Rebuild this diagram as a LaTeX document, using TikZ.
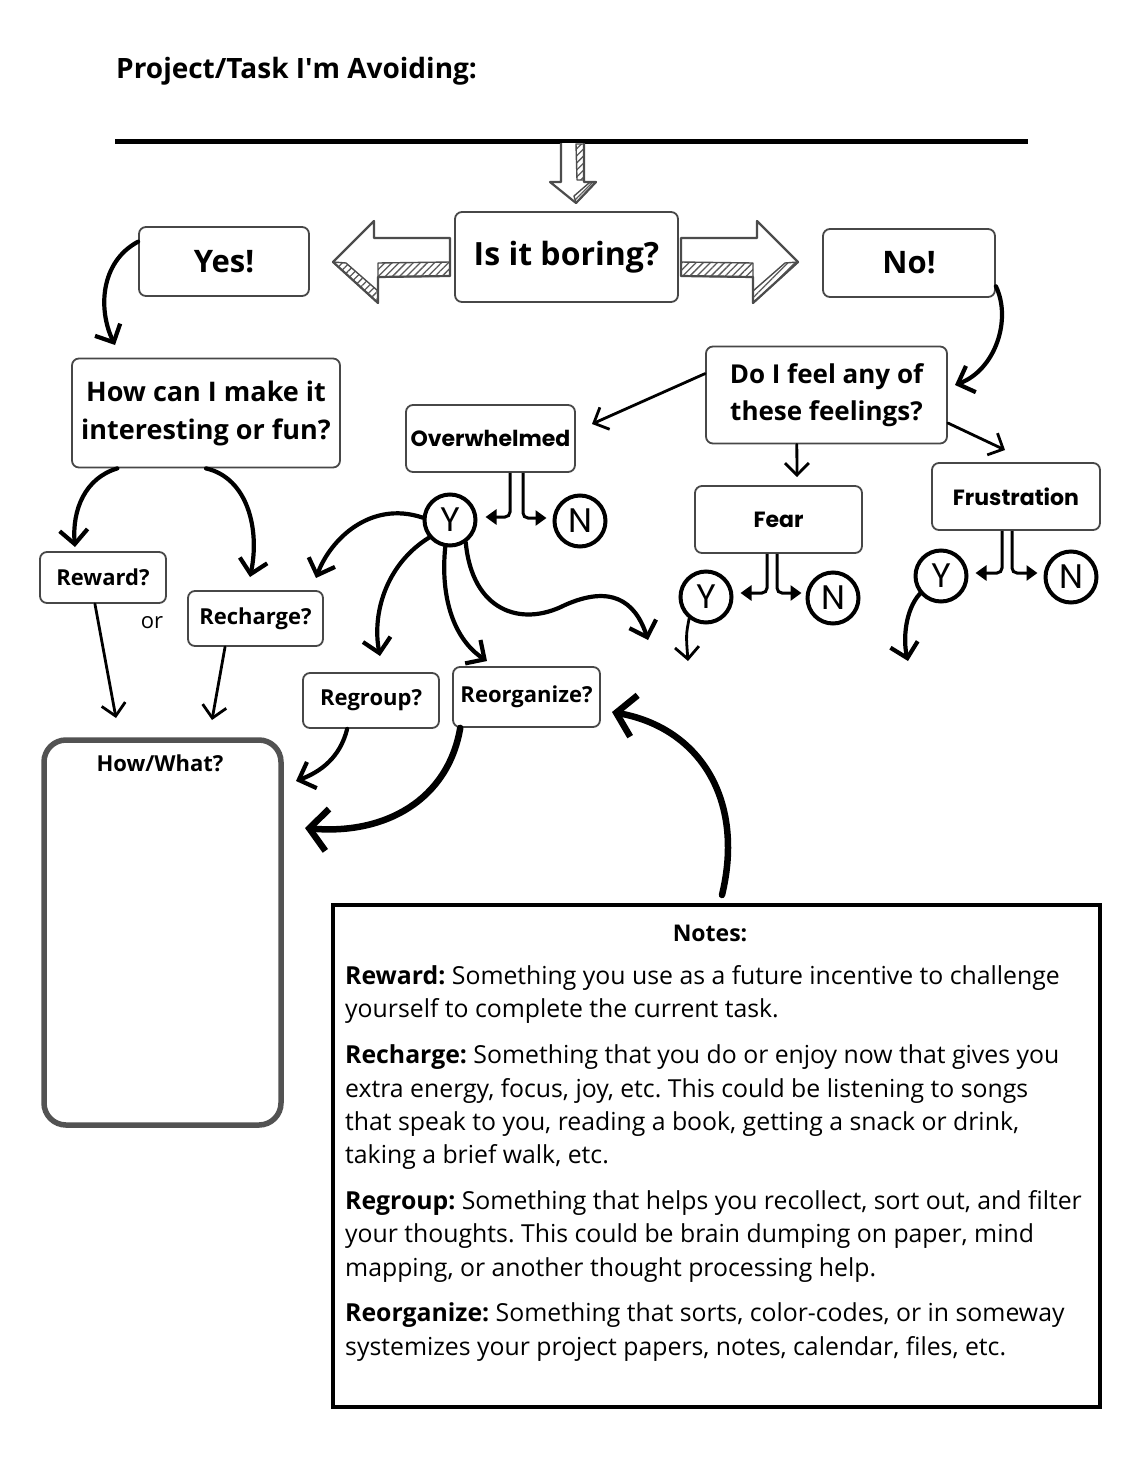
\documentclass[tikz,border=0pt]{standalone}
\usepackage{fontspec}
\setmainfont{Open Sans}
\newfontfamily\pop{Poppins}
\usetikzlibrary{arrows.meta,patterns.meta}
\newcommand\fsz[2]{\fontsize{#1}{#2}\selectfont}
\frenchspacing
\tikzset{
  box/.style={draw=black!72, line width=1.8pt, rounded corners=7pt, fill=white, inner sep=0pt, align=center},
  circ/.style={circle, draw=black, line width=4pt, minimum size=51pt, inner sep=0pt, font=\pop\fsz{34}{34}},
  arr/.style={line width=4.2pt, line cap=round, -{Straight Barb[length=14pt,width=28pt]}},
  arrthin/.style={line width=2.8pt, line cap=round, -{Straight Barb[length=12pt,width=24pt]}},
  arrbig/.style={line width=6.5pt, line cap=round, -{Straight Barb[length=18pt,width=42pt]}},
  fork/.style={line width=3pt, rounded corners=5pt, -{Triangle[length=11pt,width=15pt]}},
  blockarr/.style={draw=black!70, line width=2.2pt, line join=round, fill=white},
  hatch/.style={draw=black!70, line width=1.4pt, line join=round, pattern={Lines[angle=45,distance=5pt,line width=1.3pt]}, pattern color=black!65},
  notetxt/.style={anchor=base west, inner sep=0pt, font=\fsz{24.8}{33}},
}
\begin{document}
\begin{tikzpicture}[x=1pt,y=-1pt]
\useasboundingbox[fill=white] (0,0) rectangle (1140,1475);

% title and line
\node[anchor=base west, inner sep=0pt, font=\fsz{28}{32}\bfseries] (title) at (116,78) {Project/Task I\textquotesingle m Avoiding:};
\draw[line width=5pt] (115,141) -- (1028,141);

% down block arrow
\draw[blockarr] (561,143) -- (561,182) -- (550,182) -- (576,203) -- (596,182) -- (584,182) -- (584,143);
\draw[hatch] (576,144) -- (584,144) -- (584,180) -- (577,180) -- cycle;
\draw[hatch] (596,182) -- (576,203) -- (574,196) -- (589,183) -- cycle;

% left block arrow
\draw[blockarr] (333,262) -- (374,221) -- (374,238) -- (450,238) -- (450,276) -- (378,277) -- (378,303) -- cycle;
\draw[hatch] (450,262) -- (378,263) -- (378,277) -- (450,276) -- cycle;
\draw[hatch] (333,262) -- (378,303) -- (378,291) -- (346,263) -- cycle;
% right block arrow (mirror)
\begin{scope}[xshift=1131pt, xscale=-1]
\draw[blockarr] (333,262) -- (374,221) -- (374,238) -- (450,238) -- (450,276) -- (378,277) -- (378,303) -- cycle;
\draw[hatch] (450,262) -- (378,263) -- (378,277) -- (450,276) -- cycle;
\draw[hatch] (333,262) -- (378,303) -- (378,291) -- (346,263) -- cycle;
\end{scope}

% boxes
\node[box, minimum width=223pt, minimum height=90pt, font=\fsz{32}{38}\bfseries] (boring) at (566.5,257) {Is it boring?};
\node[box, minimum width=170pt, minimum height=69pt, font=\fsz{31}{36}\bfseries] (yes) at (224,261.5) {Yes!};
\node[box, minimum width=172pt, minimum height=68pt, font=\fsz{31}{36}\bfseries] (no) at (909,263) {No!};
\node[box, minimum width=268pt, minimum height=109pt, font=\fsz{27}{38}\bfseries] (how) at (206,413) {How can I make it\\interesting or fun?};
\node[box, minimum width=241pt, minimum height=97pt, font=\fsz{26}{37}\bfseries] (feel) at (826.5,395) {Do I feel any of\\these feelings?};
\node[box, minimum width=169pt, minimum height=67pt, font=\pop\fsz{22}{26}\bfseries] (over) at (490.5,438.5) {Overwhelmed};
\node[box, minimum width=167pt, minimum height=67pt, font=\pop\fsz{22}{26}\bfseries] (fear) at (778.5,519.5) {Fear};
\node[box, minimum width=168pt, minimum height=67pt, font=\pop\fsz{22}{26}\bfseries] (frus) at (1016,496.5) {Frustration};
\node[box, minimum width=126pt, minimum height=51pt, font=\fsz{22}{26}\bfseries] (reward) at (103,577.5) {Reward?};
\node[box, minimum width=135pt, minimum height=55pt, font=\fsz{22}{26}\bfseries] (recharge) at (255.5,618.5) {Recharge?};
\node[box, minimum width=136pt, minimum height=55pt, font=\fsz{22}{26}\bfseries] (regroup) at (371,700.5) {Regroup?};
\node[box, minimum width=147pt, minimum height=60pt, font=\fsz{22}{26}\bfseries] (reorg) at (526.5,697) {Reorganize?};
\node[inner sep=0pt, font=\fsz{22}{26}] (or) at (152,623) {or};

% How/What box
\node[draw=black!68, line width=5.5pt, rounded corners=22pt, minimum width=237pt, minimum height=385pt, inner sep=0pt] (hw) at (162.5,932.5) {};
\node[inner sep=0pt, font=\fsz{22}{26}\bfseries] (hwl) at (160,763) {How/What?};

% circles
\node[circ] (oy) at (450,520) {Y};
\node[circ] (on) at (580,521) {N};
\node[circ] (fy) at (706,597) {Y};
\node[circ] (fn) at (833,598) {N};
\node[circ] (ry) at (941,576) {Y};
\node[circ] (rn) at (1071,577) {N};

% forks
\draw[fork] ([xshift=19.5pt]over.south) |- ([xshift=8pt,yshift=3pt]oy.east);
\draw[fork] ([xshift=32.5pt]over.south) |- ([xshift=-6pt,yshift=3pt]on.west);
\draw[fork] ([xshift=-11.5pt]fear.south) |- ([xshift=7pt,yshift=4pt]fy.east);
\draw[fork] ([xshift=-1.5pt]fear.south) |- ([xshift=-4pt,yshift=5pt]fn.west);
\draw[fork] ([xshift=-14pt]frus.south) |- ([xshift=7pt,yshift=3pt]ry.east);
\draw[fork] ([xshift=-4pt]frus.south) |- ([xshift=-6pt,yshift=4pt]rn.west);

% free end coordinates
\coordinate (c1) at (115,345);
\coordinate (c2) at (955,385);
\coordinate (c3) at (592,424);
\coordinate (c4) at (797,477);
\coordinate (c5) at (1005,450);
\coordinate (c6) at (75,547);
\coordinate (c7) at (250,577);
\coordinate (c8) at (116,718);
\coordinate (c9) at (212,720);
\coordinate (c10) at (316,578);
\coordinate (c11) at (380,656);
\coordinate (c12) at (487,661);
\coordinate (c13m) at (565,605);
\coordinate (c13) at (648,640);
\coordinate (c14) at (296,781);
\coordinate (c15) at (305,828);
\coordinate (c16s) at (722,895);
\coordinate (c16) at (612,712);
\coordinate (c17) at (688,661);
\coordinate (c18) at (908,661);

% connectors
\draw[arr] (yes.167) .. controls (100,262) and (98,310) .. (c1);
\draw[arr] (no.-15) .. controls (1012,320) and (995,370) .. (c2);
\draw[arrthin] (feel.170) -- (c3);
\draw[arrthin] (feel.-121) -- (c4);
\draw[arrthin] (feel.-13) -- (c5);
\draw[arr] (how.-148) .. controls (85,478) and (72,510) .. (c6);
\draw[arr] (how.-90) .. controls (248,478) and (260,530) .. (c7);
\draw[arrthin] (reward.-107) -- (c8);
\draw[arrthin] (recharge.-137) -- (c9);
\draw[arr] (oy.175) .. controls (370,500) and (330,540) .. (c10);
\draw[arr] (oy.-140) .. controls (385,565) and (372,615) .. (c11);
\draw[arr] (oy.-100) .. controls (440,600) and (455,640) .. (c12);
\draw[arr] (oy.-55) .. controls (472,610) and (520,628) .. (c13m) .. controls (610,585) and (635,600) .. (c13);
\draw[arr] (regroup.-130) .. controls (340,758) and (320,772) .. (c14);
\draw[arrbig] (reorg.-155) .. controls (448,800) and (385,835) .. (c15);
\draw[arrbig] (c16s) .. controls (745,800) and (700,728) .. (c16);
\draw[arrthin] (fy.-128) .. controls (686,635) .. (c17);
\draw[arr] (ry.-140) .. controls (905,610) and (903,640) .. (c18);

% notes
\node[draw=black, line width=4pt, minimum width=767pt, minimum height=502pt, inner sep=0pt] (notes) at (716.5,1156) {};
\node[inner sep=0pt, font=\fsz{23}{28}\bfseries] (ntitle) at (710,933) {Notes:};
\node[notetxt] (n1) at (345,984) {\textbf{Reward:} Something you use as a future incentive to challenge};
\node[notetxt] (n2) at (345,1017) {yourself to complete the current task.};
\node[notetxt] (n3) at (345,1063) {\textbf{Recharge:} Something that you do or enjoy now that gives you};
\node[notetxt] (n4) at (345,1097) {extra energy, focus, joy, etc. This could be listening to songs};
\node[notetxt] (n5) at (345,1130) {that speak to you, reading a book, getting a snack or drink,};
\node[notetxt] (n6) at (345,1163) {taking a brief walk, etc.};
\node[notetxt] (n7) at (345,1209) {\textbf{Regroup:} Something that helps you recollect, sort out, and filter};
\node[notetxt] (n8) at (345,1242) {your thoughts. This could be brain dumping on paper, mind};
\node[notetxt] (n9) at (345,1276) {mapping, or another thought processing help.};
\node[notetxt] (n10) at (345,1321) {\textbf{Reorganize:} Something that sorts, color-codes, or in someway};
\node[notetxt] (n11) at (345,1355) {systemizes your project papers, notes, calendar, files, etc.};
\end{tikzpicture}
\end{document}
